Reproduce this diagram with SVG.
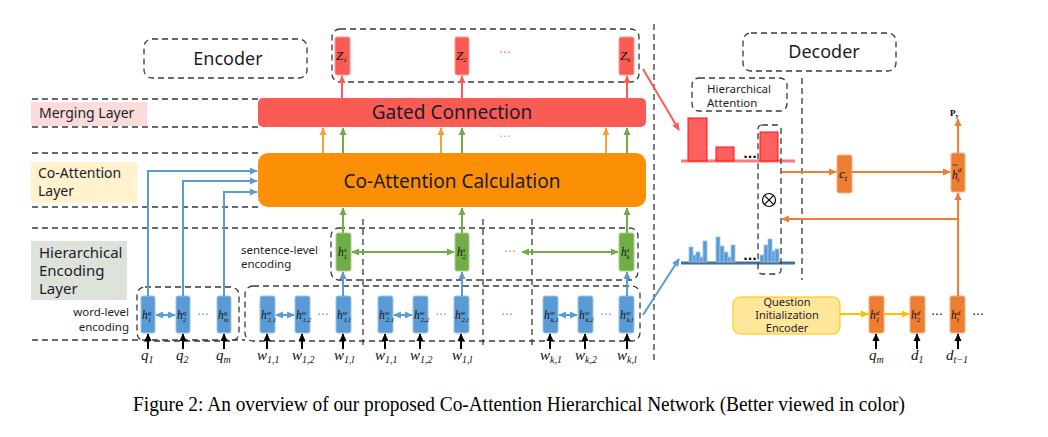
<svg xmlns="http://www.w3.org/2000/svg" width="1048" height="437" viewBox="0 0 1048 437">
<style>
.dash{fill:none;stroke:#3a3a3a;stroke-width:1.3;stroke-dasharray:6 4}
.ui{font-family:"Noto Sans","DejaVu Sans",sans-serif;fill:#1c1c2c}
.m{font-family:"Liberation Serif",serif;font-style:italic;fill:#111}
.sp{font-size:7px}
.bB{fill:#5b9bd5;stroke:#9dc3e6;stroke-width:1}
.bG{fill:#70ad47;stroke:#a9d18e;stroke-width:1}
.bR{fill:#fa5c53;stroke:#ff9a94;stroke-width:1}
.bD{fill:#ed7d31;stroke:#f4b183;stroke-width:1}
.cB{fill:none;stroke:#5b9bd5;stroke-width:2}
.cG{fill:none;stroke:#70ad47;stroke-width:2}
.cO{fill:none;stroke:#f7a035;stroke-width:2}
.cR{fill:none;stroke:#fa5c53;stroke-width:2}
.cD{fill:none;stroke:#ed7d31;stroke-width:2}
.cY{fill:none;stroke:#ffc000;stroke-width:2}
.cK{fill:none;stroke:#000;stroke-width:2}
.dots{font-family:"DejaVu Sans",sans-serif;font-size:12px;text-anchor:middle}
</style>
<defs>
<marker id="aB" viewBox="0 0 10 10" refX="9" refY="5" markerWidth="8" markerHeight="8" orient="auto-start-reverse" markerUnits="userSpaceOnUse"><path d="M0,0.5 L10,5 L0,9.5 z" fill="#5b9bd5"/></marker>
<marker id="aG" viewBox="0 0 10 10" refX="9" refY="5" markerWidth="8" markerHeight="8" orient="auto-start-reverse" markerUnits="userSpaceOnUse"><path d="M0,0.5 L10,5 L0,9.5 z" fill="#70ad47"/></marker>
<marker id="aO" viewBox="0 0 10 10" refX="9" refY="5" markerWidth="8" markerHeight="8" orient="auto" markerUnits="userSpaceOnUse"><path d="M0,0.5 L10,5 L0,9.5 z" fill="#f7a035"/></marker>
<marker id="aR" viewBox="0 0 10 10" refX="9" refY="5" markerWidth="8" markerHeight="8" orient="auto" markerUnits="userSpaceOnUse"><path d="M0,0.5 L10,5 L0,9.5 z" fill="#fa5c53"/></marker>
<marker id="aD" viewBox="0 0 10 10" refX="9" refY="5" markerWidth="8" markerHeight="8" orient="auto" markerUnits="userSpaceOnUse"><path d="M0,0.5 L10,5 L0,9.5 z" fill="#ed7d31"/></marker>
<marker id="aY" viewBox="0 0 10 10" refX="9" refY="5" markerWidth="8" markerHeight="8" orient="auto" markerUnits="userSpaceOnUse"><path d="M0,0.5 L10,5 L0,9.5 z" fill="#ffc000"/></marker>
<marker id="aK" viewBox="0 0 10 10" refX="9" refY="5" markerWidth="8" markerHeight="8" orient="auto" markerUnits="userSpaceOnUse"><path d="M0,0.5 L10,5 L0,9.5 z" fill="#000"/></marker>
</defs>
<rect width="1048" height="437" fill="#fff"/>

<!-- layer guides -->
<g id="layers">
<line class="dash" x1="32" y1="99" x2="258" y2="99"/>
<line class="dash" x1="32" y1="127" x2="258" y2="127"/>
<line class="dash" x1="32" y1="153" x2="258" y2="153"/>
<line class="dash" x1="32" y1="207" x2="258" y2="207"/>
<line class="dash" x1="32" y1="228" x2="332" y2="228"/>
<line class="dash" x1="32" y1="340" x2="245" y2="340"/>
<line class="dash" x1="654" y1="24" x2="654" y2="360"/>
<line class="dash" x1="802" y1="78" x2="802" y2="280"/>
<line class="dash" x1="363" y1="219" x2="363" y2="349"/>
<line class="dash" x1="483" y1="219" x2="483" y2="349"/>
<line class="dash" x1="532" y1="219" x2="532" y2="349"/>
</g>

<g id="merging-label"><rect x="31" y="102" width="116" height="24" fill="#fbdcdb"/><text class="ui" x="39" y="118" font-size="14">Merging Layer</text></g>
<g id="coatt-label"><rect x="31" y="162" width="106" height="41" fill="#fff2cc"/><text class="ui" x="38" y="178" font-size="14">Co-Attention</text><text class="ui" x="38" y="196" font-size="14">Layer</text></g>
<g id="hier-label"><rect x="31" y="241" width="96" height="59" fill="#dde2da"/><text class="ui" x="39" y="258" font-size="15">Hierarchical</text><text class="ui" x="39" y="276" font-size="15">Encoding</text><text class="ui" x="39" y="294" font-size="15">Layer</text></g>

<g id="encoder-title"><rect class="dash" x="144" y="39" width="163" height="39" rx="8"/><text class="ui" x="228" y="65" font-size="18" text-anchor="middle">Encoder</text></g>
<g id="decoder-title"><rect class="dash" x="743" y="33" width="153" height="38" rx="8"/><text class="ui" x="824" y="58" font-size="18" text-anchor="middle">Decoder</text></g>

<g id="gated"><rect x="258" y="98" width="388" height="29" rx="5" fill="#fa5c53"/><text class="ui" x="452" y="119" font-size="19" text-anchor="middle">Gated Connection</text></g>
<g id="coatt"><rect x="258" y="153" width="388" height="54" rx="10" fill="#fb8f06"/><text class="ui" x="452" y="188" font-size="19" text-anchor="middle">Co-Attention Calculation</text></g>

<g id="z-outputs">
<rect class="dash" x="332" y="29" width="307" height="53" rx="8"/>
<rect class="bR" x="335" y="37" width="15" height="38" rx="2"/><text class="m" x="336" y="60" font-size="13">Z<tspan class="sp" dy="2">1</tspan></text>
<rect class="bR" x="455" y="37" width="14" height="38" rx="2"/><text class="m" x="456" y="60" font-size="13">Z<tspan class="sp" dy="2">2</tspan></text>
<rect class="bR" x="619" y="37" width="15" height="38" rx="2"/><text class="m" x="620" y="60" font-size="13">Z<tspan class="sp" dy="2">k</tspan></text>
<text class="dots" x="505" y="57" fill="#fa5c53">···</text>
</g>

<g id="sentence-level">
<rect class="dash" x="331" y="228" width="307" height="52" rx="8"/>
<text class="ui" x="241" y="254" font-size="11.5">sentence-level</text>
<text class="ui" x="241" y="268" font-size="11.5">encoding</text>
<rect class="bG" x="336" y="233" width="15" height="38" rx="2"/><text class="m" x="338" y="256" font-size="11.5">h<tspan class="sp" dy="-4">s</tspan><tspan class="sp" dx="-3" dy="7">1</tspan></text>
<rect class="bG" x="455" y="233" width="14" height="38" rx="2"/><text class="m" x="457" y="256" font-size="11.5">h<tspan class="sp" dy="-4">s</tspan><tspan class="sp" dx="-3" dy="7">2</tspan></text>
<rect class="bG" x="619" y="233" width="15" height="38" rx="2"/><text class="m" x="621" y="256" font-size="11.5">h<tspan class="sp" dy="-4">s</tspan><tspan class="sp" dx="-3" dy="7">k</tspan></text>
<text class="dots" x="510" y="256" fill="#70ad47">···</text>
</g>

<g id="question-encoding">
<rect class="dash" x="137" y="287" width="102" height="54" rx="8"/>
<text class="ui" x="129" y="316" font-size="11.5" text-anchor="end">word-level</text>
<text class="ui" x="129" y="331" font-size="11.5" text-anchor="end">encoding</text>
<rect class="bB" x="141" y="296" width="14" height="37" rx="2"/><text class="m" x="142" y="319" font-size="11.5">h<tspan class="sp" dy="-4">q</tspan><tspan class="sp" dx="-3.5" dy="7">1</tspan></text>
<rect class="bB" x="176" y="296" width="14" height="37" rx="2"/><text class="m" x="177" y="319" font-size="11.5">h<tspan class="sp" dy="-4">q</tspan><tspan class="sp" dx="-3.5" dy="7">2</tspan></text>
<rect class="bB" x="217" y="296" width="14" height="37" rx="2"/><text class="m" x="218" y="319" font-size="11.5">h<tspan class="sp" dy="-4">q</tspan><tspan class="sp" dx="-3.5" dy="7">m</tspan></text>
<text class="dots" x="203" y="319" fill="#5b9bd5">···</text>
<text class="m" x="141" y="360" font-size="15">q<tspan font-size="10" dy="3">1</tspan></text>
<text class="m" x="176" y="360" font-size="15">q<tspan font-size="10" dy="3">2</tspan></text>
<text class="m" x="216" y="360" font-size="15">q<tspan font-size="10" dy="3">m</tspan></text>
</g>

<g id="word-encoding">
<rect class="dash" x="245" y="286" width="395" height="55" rx="8"/>
<rect class="bB" x="260" y="296" width="15" height="37" rx="2"/><text class="m" x="261" y="319" font-size="11.5">h<tspan class="sp" dy="-4">w</tspan><tspan class="sp" dx="-4" dy="7">1,1</tspan></text>
<rect class="bB" x="295" y="296" width="15" height="37" rx="2"/><text class="m" x="296" y="319" font-size="11.5">h<tspan class="sp" dy="-4">w</tspan><tspan class="sp" dx="-4" dy="7">1,2</tspan></text>
<rect class="bB" x="336" y="296" width="15" height="37" rx="2"/><text class="m" x="337" y="319" font-size="11.5">h<tspan class="sp" dy="-4">w</tspan><tspan class="sp" dx="-4" dy="7">1,l</tspan></text>
<rect class="bB" x="378" y="296" width="15" height="37" rx="2"/><text class="m" x="379" y="319" font-size="11.5">h<tspan class="sp" dy="-4">w</tspan><tspan class="sp" dx="-4" dy="7">2,1</tspan></text>
<rect class="bB" x="413" y="296" width="15" height="37" rx="2"/><text class="m" x="414" y="319" font-size="11.5">h<tspan class="sp" dy="-4">w</tspan><tspan class="sp" dx="-4" dy="7">2,2</tspan></text>
<rect class="bB" x="454" y="296" width="15" height="37" rx="2"/><text class="m" x="455" y="319" font-size="11.5">h<tspan class="sp" dy="-4">w</tspan><tspan class="sp" dx="-4" dy="7">2,l</tspan></text>
<rect class="bB" x="543" y="296" width="15" height="37" rx="2"/><text class="m" x="544" y="319" font-size="11.5">h<tspan class="sp" dy="-4">w</tspan><tspan class="sp" dx="-4" dy="7">k,1</tspan></text>
<rect class="bB" x="578" y="296" width="15" height="37" rx="2"/><text class="m" x="579" y="319" font-size="11.5">h<tspan class="sp" dy="-4">w</tspan><tspan class="sp" dx="-4" dy="7">k,2</tspan></text>
<rect class="bB" x="619" y="296" width="15" height="37" rx="2"/><text class="m" x="620" y="319" font-size="11.5">h<tspan class="sp" dy="-4">w</tspan><tspan class="sp" dx="-4" dy="7">k,l</tspan></text>
<text class="dots" x="323" y="319" fill="#5b9bd5">···</text>
<text class="dots" x="441" y="319" fill="#5b9bd5">···</text>
<text class="dots" x="507" y="319" fill="#5b9bd5">···</text>
<text class="dots" x="606" y="319" fill="#5b9bd5">···</text>
<text class="m" x="257" y="360" font-size="15">w<tspan font-size="10" dy="3">1,1</tspan></text>
<text class="m" x="292" y="360" font-size="15">w<tspan font-size="10" dy="3">1,2</tspan></text>
<text class="m" x="334" y="360" font-size="15">w<tspan font-size="10" dy="3">1,l</tspan></text>
<text class="m" x="375" y="360" font-size="15">w<tspan font-size="10" dy="3">1,1</tspan></text>
<text class="m" x="410" y="360" font-size="15">w<tspan font-size="10" dy="3">1,2</tspan></text>
<text class="m" x="452" y="360" font-size="15">w<tspan font-size="10" dy="3">1,l</tspan></text>
<text class="m" x="540" y="360" font-size="15">w<tspan font-size="10" dy="3">k,1</tspan></text>
<text class="m" x="575" y="360" font-size="15">w<tspan font-size="10" dy="3">k,2</tspan></text>
<text class="m" x="617" y="360" font-size="15">w<tspan font-size="10" dy="3">k,l</tspan></text>
</g>

<g id="hier-attention">
<rect class="dash" x="692" y="78" width="95" height="33" rx="7"/>
<text class="ui" x="707" y="93" font-size="11.5">Hierarchical</text>
<text class="ui" x="707" y="107" font-size="11.5">Attention</text>
<line x1="681" y1="161" x2="795" y2="161" stroke="#f47c7c" stroke-width="3"/>
<rect x="688" y="118" width="19" height="43" fill="#ff5f5f" stroke="#f11" stroke-width="1"/>
<rect x="716" y="147" width="18" height="14" fill="#ff5f5f" stroke="#f11" stroke-width="1"/>
<rect x="760" y="132" width="18" height="29" fill="#ff5f5f" stroke="#f11" stroke-width="1"/>
<text x="750" y="158" font-family="DejaVu Sans,sans-serif" font-size="12" font-weight="bold" text-anchor="middle">...</text>
<line x1="681" y1="263" x2="795" y2="263" stroke="#41719c" stroke-width="3"/>
<g fill="#5b9bd5" stroke="#9dc3e6" stroke-width="0.8">
<rect x="689" y="247" width="4" height="15"/><rect x="693" y="255" width="3" height="7"/><rect x="696" y="252" width="4" height="10"/><rect x="700" y="257" width="3" height="5"/><rect x="703" y="241" width="4" height="21"/>
<rect x="716" y="237" width="4" height="25"/><rect x="720" y="246" width="4" height="16"/><rect x="724" y="252" width="4" height="10"/><rect x="728" y="257" width="3" height="5"/><rect x="731" y="245" width="4" height="17"/>
<rect x="760" y="255" width="4" height="7"/><rect x="764" y="245" width="4" height="17"/><rect x="768" y="239" width="4" height="23"/><rect x="772" y="251" width="3" height="11"/><rect x="775" y="249" width="4" height="13"/>
</g>
<text x="750" y="260" font-family="DejaVu Sans,sans-serif" font-size="12" font-weight="bold" text-anchor="middle">...</text>
<rect class="dash" x="758" y="125" width="23" height="149" rx="4" stroke-width="1.1" stroke-dasharray="4 3"/>
<circle cx="769" cy="200" r="6.5" fill="none" stroke="#000" stroke-width="1.2"/>
<path d="M764.4,195.4 L773.6,204.6 M773.6,195.4 L764.4,204.6" stroke="#000" stroke-width="1.2"/>
</g>

<g id="context">
<rect class="bD" x="837" y="155" width="15" height="38" rx="2"/>
<text class="m" x="839" y="178" font-size="13">c<tspan font-size="8" dy="3">t</tspan></text>
</g>
<g id="h-tilde">
<rect class="bD" x="951" y="153" width="14" height="39" rx="2"/>
<text class="m" x="952" y="179" font-size="11.5">h<tspan class="sp" dy="-7">d</tspan><tspan class="sp" dx="-4" dy="10">t</tspan></text>
<text class="m" x="952" y="168" font-size="10">~</text>
</g>
<text x="950" y="116" font-family="'Liberation Serif',serif" font-size="9" font-weight="bold">P<tspan font-size="6" dy="2">y</tspan></text>

<g id="question-init"><rect x="733" y="297" width="107" height="37" rx="7" fill="#ffe699" stroke="#ffc000" stroke-width="1"/>
<text class="ui" x="787" y="306" font-size="11" text-anchor="middle">Question</text>
<text class="ui" x="787" y="319" font-size="11" text-anchor="middle">Initialization</text>
<text class="ui" x="787" y="332" font-size="11" text-anchor="middle">Encoder</text></g>

<g id="decoder-states">
<rect class="bD" x="869" y="296" width="15" height="37" rx="2"/><text class="m" x="870" y="319" font-size="11.5">h<tspan class="sp" dy="-4">d</tspan><tspan class="sp" dx="-3.5" dy="7">1</tspan></text>
<rect class="bD" x="910" y="296" width="15" height="37" rx="2"/><text class="m" x="911" y="319" font-size="11.5">h<tspan class="sp" dy="-4">d</tspan><tspan class="sp" dx="-3.5" dy="7">2</tspan></text>
<rect class="bD" x="950" y="296" width="15" height="37" rx="2"/><text class="m" x="951" y="319" font-size="11.5">h<tspan class="sp" dy="-4">d</tspan><tspan class="sp" dx="-3.5" dy="7">t</tspan></text>
<text class="dots" x="937" y="319" fill="#000">···</text>
<text class="dots" x="978" y="319" fill="#000">···</text>
<text class="m" x="869" y="360" font-size="15">q<tspan font-size="10" dy="3">m</tspan></text>
<text class="m" x="911" y="360" font-size="15">d<tspan font-size="10" dy="3">1</tspan></text>
<text class="m" x="946" y="360" font-size="15">d<tspan font-size="10" dy="3">t−1</tspan></text>
</g>

<g id="connectors">
<path class="cB" d="M148,296 V171 H257" marker-end="url(#aB)"/>
<path class="cB" d="M183,296 V181 H257" marker-end="url(#aB)"/>
<path class="cB" d="M224,296 V192 H257" marker-end="url(#aB)"/>
<path class="cB" d="M343,296 V272" marker-end="url(#aB)"/>
<path class="cB" d="M462,296 V272" marker-end="url(#aB)"/>
<path class="cB" d="M627,296 V272" marker-end="url(#aB)"/>
<path class="cB" d="M156,315 H175" marker-start="url(#aB)" marker-end="url(#aB)"/>
<path class="cB" d="M276,315 H294" marker-start="url(#aB)" marker-end="url(#aB)"/>
<path class="cB" d="M394,315 H412" marker-start="url(#aB)" marker-end="url(#aB)"/>
<path class="cB" d="M559,315 H577" marker-start="url(#aB)" marker-end="url(#aB)"/>
<path class="cG" d="M352,252 H454" marker-start="url(#aG)" marker-end="url(#aG)"/>
<path class="cG" d="M522,252 H618" marker-start="url(#aG)" marker-end="url(#aG)"/>
<path class="cG" d="M343,233 V208" marker-end="url(#aG)"/>
<path class="cG" d="M462,233 V208" marker-end="url(#aG)"/>
<path class="cG" d="M627,233 V208" marker-end="url(#aG)"/>
<path class="cG" d="M343,153 V128" marker-end="url(#aG)"/>
<path class="cG" d="M462,153 V128" marker-end="url(#aG)"/>
<path class="cG" d="M627,153 V128" marker-end="url(#aG)"/>
<path class="cO" d="M323,153 V128" marker-end="url(#aO)"/>
<path class="cO" d="M441,153 V128" marker-end="url(#aO)"/>
<path class="cO" d="M606,153 V128" marker-end="url(#aO)"/>
<text class="dots" x="505" y="141" fill="#f7a035">···</text>
<path class="cR" d="M342,98 V76" marker-end="url(#aR)"/>
<path class="cR" d="M462,98 V76" marker-end="url(#aR)"/>
<path class="cR" d="M627,98 V76" marker-end="url(#aR)"/>
<path class="cR" d="M643,69 L679,130" marker-end="url(#aR)"/>
<path class="cB" d="M643,315 L679,259" marker-end="url(#aB)"/>
<path class="cD" d="M782,172 H836" marker-end="url(#aD)"/>
<path class="cD" d="M852,172 H950" marker-end="url(#aD)"/>
<path class="cD" d="M958,153 V119" marker-end="url(#aD)"/>
<path class="cD" d="M958,296 V193" marker-end="url(#aD)"/>
<path class="cD" d="M958,219 H782" marker-end="url(#aD)"/>
<path class="cY" d="M840,314 H868" marker-end="url(#aY)"/>
<path class="cY" d="M884,314 H909" marker-end="url(#aY)"/>
<g>
<path class="cK" d="M148,349 V334" marker-end="url(#aK)"/>
<path class="cK" d="M183,349 V334" marker-end="url(#aK)"/>
<path class="cK" d="M224,349 V334" marker-end="url(#aK)"/>
<path class="cK" d="M267,349 V334" marker-end="url(#aK)"/>
<path class="cK" d="M302,349 V334" marker-end="url(#aK)"/>
<path class="cK" d="M343,349 V334" marker-end="url(#aK)"/>
<path class="cK" d="M385,349 V334" marker-end="url(#aK)"/>
<path class="cK" d="M420,349 V334" marker-end="url(#aK)"/>
<path class="cK" d="M461,349 V334" marker-end="url(#aK)"/>
<path class="cK" d="M550,349 V334" marker-end="url(#aK)"/>
<path class="cK" d="M585,349 V334" marker-end="url(#aK)"/>
<path class="cK" d="M627,349 V334" marker-end="url(#aK)"/>
<path class="cK" d="M876,349 V334" marker-end="url(#aK)"/>
<path class="cK" d="M917,349 V334" marker-end="url(#aK)"/>
<path class="cK" d="M958,349 V334" marker-end="url(#aK)"/>
</g>
</g>

<text x="133" y="411" font-family="'Liberation Serif',serif" font-size="20" textLength="772" lengthAdjust="spacingAndGlyphs" fill="#000">Figure 2: An overview of our proposed Co-Attention Hierarchical Network (Better viewed in color)</text>
</svg>
